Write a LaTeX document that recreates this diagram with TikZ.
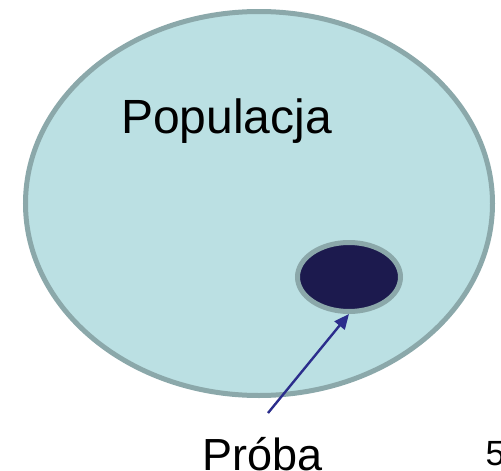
\documentclass[tikz,border=0pt]{standalone}
\usepackage{fontspec}
\setmainfont{Liberation Sans}
\usetikzlibrary{shapes.geometric,arrows.meta}

\definecolor{popfill}{HTML}{BBE0E3}
\definecolor{rimgray}{HTML}{8BA8AA}
\definecolor{samplefill}{HTML}{1C1A4E}
\definecolor{arrowblue}{HTML}{2B2D8C}

\tikzset{
  region/.style={ellipse, draw=rimgray, line width=5pt, inner sep=0pt},
  label/.style={inner sep=0pt, text=black},
  pointer/.style={draw=arrowblue, line width=2.4pt,
    -{Triangle[length=15pt,width=13pt]}, shorten >=0pt}
}

\begin{document}
\begin{tikzpicture}[x=1pt,y=-1pt]
  \useasboundingbox (0,0) rectangle (501,471);

  % population and the sample inside it
  \node[region, fill=popfill, minimum width=467pt, minimum height=384pt]
    (population) at (259,203.5) {};
  \node[region, fill=samplefill, minimum width=103pt, minimum height=69pt]
    (sample) at (349,277) {};

  % captions
  \node[label, anchor=base west, font=\fontsize{48}{56}\selectfont]
    (poplabel) at (121,133) {Populacja};
  \node[label, anchor=base west, font=\fontsize{45}{52}\selectfont]
    (samplelabel) at (202.5,470.5) {Próba};
  \node[label, anchor=base west, font=\fontsize{35}{42}\selectfont]
    (pagenum) at (485.5,465) {5};

  % arrow from the caption up to the sample
  \coordinate (tail) at (268,413);
  \draw[pointer] (tail) -- (sample.south);
\end{tikzpicture}
\end{document}
